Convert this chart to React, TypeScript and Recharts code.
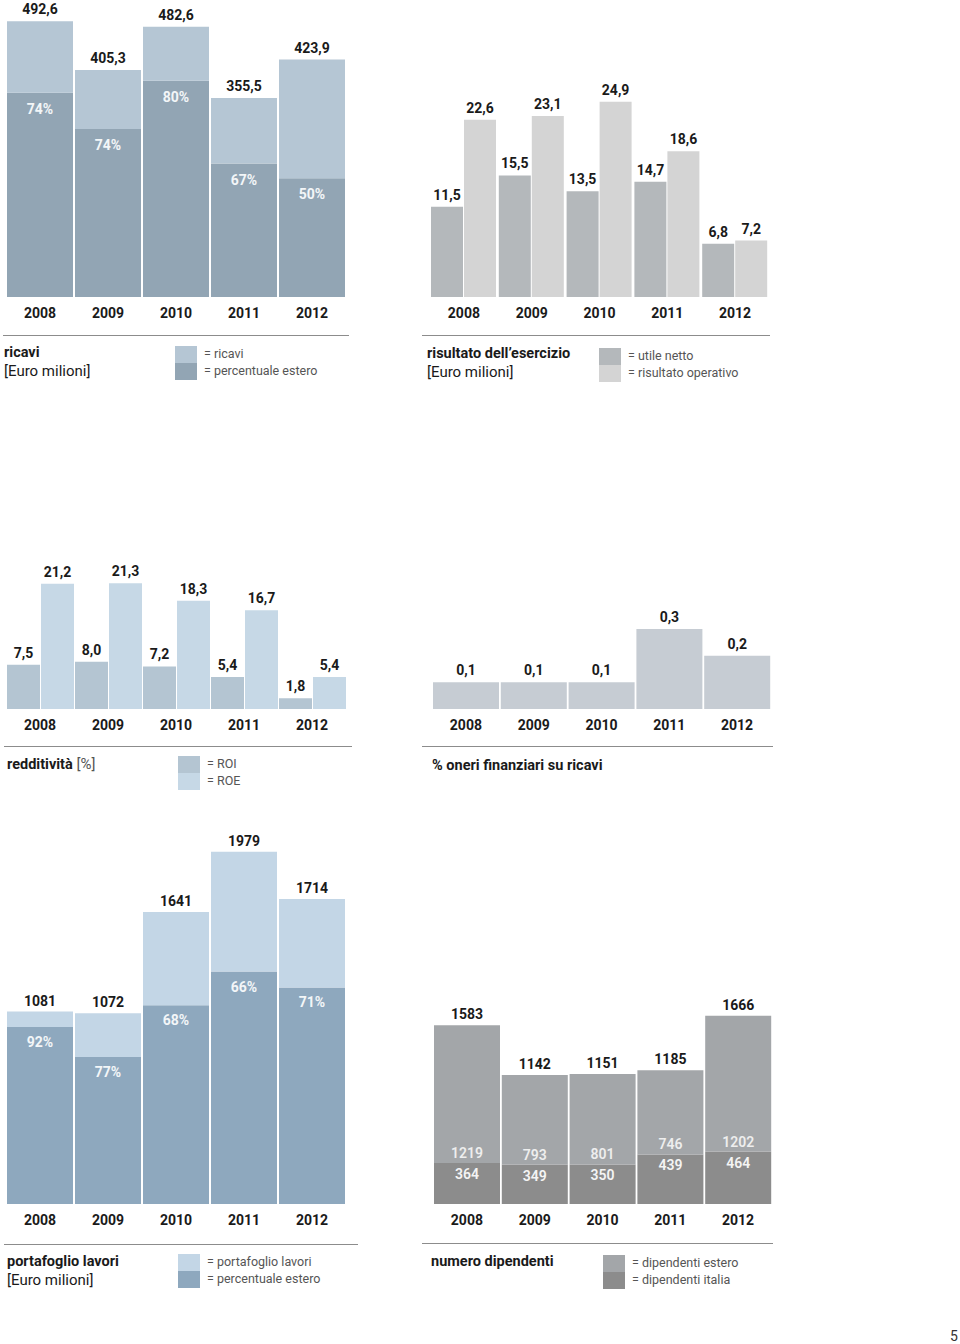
import type { ReactNode } from 'react'
import { Bar, BarChart, LabelList, XAxis, YAxis } from 'recharts'

const FONT = 'Roboto, "DejaVu Sans", sans-serif'

const years = ['2008', '2009', '2010', '2011', '2012']

// ricavi [Euro milioni] and share abroad
const ricavi = [492.6, 405.3, 482.6, 355.5, 423.9]
const ricaviEsteroPct = [74, 74, 80, 67, 50]

// risultato dell'esercizio [Euro milioni]
const utileNetto = [11.5, 15.5, 13.5, 14.7, 6.8]
const risultatoOperativo = [22.6, 23.1, 24.9, 18.6, 7.2]

// redditività [%]
const roi = [7.5, 8.0, 7.2, 5.4, 1.8]
const roe = [21.2, 21.3, 18.3, 16.7, 5.4]

// % oneri finanziari su ricavi
const oneriFinanziari = [0.1, 0.1, 0.1, 0.3, 0.2]

// portafoglio lavori [Euro milioni] and share abroad
const portafoglio = [1081, 1072, 1641, 1979, 1714]
const portafoglioEsteroPct = [92, 77, 68, 66, 71]

// numero dipendenti
const dipEstero = [1219, 793, 801, 746, 1202]
const dipItalia = [364, 349, 350, 439, 464]

const ricaviData = years.map((year, i) => {
  const estero = (ricavi[i] * ricaviEsteroPct[i]) / 100
  return { year, estero, resto: ricavi[i] - estero, ricavi: ricavi[i], pct: ricaviEsteroPct[i] }
})
const risultatoData = years.map((year, i) => ({ year, utile: utileNetto[i], operativo: risultatoOperativo[i] }))
const redditivitaData = years.map((year, i) => ({ year, roi: roi[i], roe: roe[i] }))
const oneriData = years.map((year, i) => ({ year, oneri: oneriFinanziari[i] }))
const portafoglioData = years.map((year, i) => {
  const estero = (portafoglio[i] * portafoglioEsteroPct[i]) / 100
  return { year, estero, resto: portafoglio[i] - estero, totale: portafoglio[i], pct: portafoglioEsteroPct[i] }
})
const dipendentiData = years.map((year, i) => ({
  year,
  italia: dipItalia[i],
  estero: dipEstero[i],
  totale: dipItalia[i] + dipEstero[i],
}))

const fmt1 = (v: number) => v.toFixed(1).replace('.', ',')
const fmt0 = (v: number) => String(Math.round(v))
const fmtPct = (v: number) => `${v}%`

// label placed relative to a bar segment
function makeLabel(format: (v: number) => string, place: 'above' | 'inTop' | 'aboveBottom' | 'belowTop', color: string, dy: number, weight = 700) {
  return (p: any) => {
    const x = Number(p.x)
    const y = Number(p.y)
    const w = Number(p.width)
    const h = Number(p.height)
    let ty = y - dy
    if (place === 'inTop') ty = y + dy
    if (place === 'aboveBottom') ty = y + h - dy
    if (place === 'belowTop') ty = y + dy
    return (
      <text x={x + w / 2} y={ty} textAnchor="middle" fontSize={14} fontWeight={weight} fill={color} fontFamily={FONT}>
        {format(Number(p.value))}
      </text>
    )
  }
}

const yearTick = (p: any) => (
  <text x={p.x} y={Number(p.y) + 21} textAnchor="middle" fontSize={14} fontWeight={700} fill="#1a1a1a" fontFamily={FONT}>
    {p.payload.value}
  </text>
)

type FrameProps = {
  x: number
  w: number
  plotTop: number
  base: number
  domain: [number, number]
  data: any[]
  children: ReactNode
}

function Frame({ x, w, plotTop, base, domain, data, children }: FrameProps) {
  const mt = 30
  const h = mt + (base - plotTop) + 30
  return (
    <div style={{ position: 'absolute', left: x, top: plotTop - mt }}>
      <BarChart width={w} height={h} data={data} margin={{ top: mt, right: 0, left: 0, bottom: 0 }} barCategoryGap={1} barGap={1}>
        <XAxis dataKey="year" axisLine={false} tickLine={false} tickSize={0} tickMargin={0} height={30} interval={0} tick={yearTick} />
        <YAxis hide domain={domain} />
        {children}
      </BarChart>
    </div>
  )
}

function Rule({ x, y, w }: { x: number; y: number; w: number }) {
  return <div style={{ position: 'absolute', left: x, top: y, width: w, height: 0, borderTop: '1px solid #8c8c8c' }} />
}

function Txt({ x, y, children, bold = false, size = 14.5, color = '#1a1a1a' }: { x: number; y: number; children: ReactNode; bold?: boolean; size?: number; color?: string }) {
  return (
    <div style={{ position: 'absolute', left: x, top: y - 9, lineHeight: '18px', fontSize: size, fontWeight: bold ? 700 : 400, color, whiteSpace: 'nowrap', fontFamily: FONT }}>
      {children}
    </div>
  )
}

function Legend({ x, y, c1, c2, t1, t2 }: { x: number; y: number; c1: string; c2: string; t1: string; t2: string }) {
  return (
    <>
      <div style={{ position: 'absolute', left: x, top: y, width: 22, height: 17, background: c1 }} />
      <div style={{ position: 'absolute', left: x, top: y + 17, width: 22, height: 17, background: c2 }} />
      <Txt x={x + 29} y={y + 8} size={12.5} color="#555">{t1}</Txt>
      <Txt x={x + 29} y={y + 25} size={12.5} color="#555">{t2}</Txt>
    </>
  )
}

export default function App() {
  return (
    <div style={{ position: 'absolute', left: 0, top: 0, width: 960, height: 1344, background: '#fff', overflow: 'hidden', fontFamily: FONT }}>
      {/* ricavi */}
      <Frame x={6} w={340} plotTop={17} base={297} domain={[0, 500]} data={ricaviData}>
        <Bar dataKey="estero" stackId="a" fill="#92a5b4" isAnimationActive={false}>
          <LabelList dataKey="pct" content={makeLabel(fmtPct, 'inTop', '#f3f6f8', 21)} />
        </Bar>
        <Bar dataKey="resto" stackId="a" fill="#b5c6d4" isAnimationActive={false}>
          <LabelList dataKey="ricavi" content={makeLabel(fmt1, 'above', '#1a1a1a', 7)} />
        </Bar>
      </Frame>
      <Rule x={3} y={335} w={346} />
      <Txt x={4} y={353} bold>ricavi</Txt>
      <Txt x={4} y={371} size={15}>[Euro milioni]</Txt>
      <Legend x={175} y={346} c1="#b5c6d4" c2="#92a5b4" t1="= ricavi" t2="= percentuale estero" />

      {/* risultato dell'esercizio */}
      <Frame x={430} w={339} plotTop={101} base={297} domain={[0, 25]} data={risultatoData}>
        <Bar dataKey="utile" fill="#b4b8bb" isAnimationActive={false}>
          <LabelList dataKey="utile" content={makeLabel(fmt1, 'above', '#1a1a1a', 7)} />
        </Bar>
        <Bar dataKey="operativo" fill="#d4d4d4" isAnimationActive={false}>
          <LabelList dataKey="operativo" content={makeLabel(fmt1, 'above', '#1a1a1a', 7)} />
        </Bar>
      </Frame>
      <Rule x={422} y={335} w={348} />
      <Txt x={427} y={354} bold>risultato dell’esercizio</Txt>
      <Txt x={427} y={372} size={15}>[Euro milioni]</Txt>
      <Legend x={599} y={348} c1="#b4b8bb" c2="#d4d4d4" t1="= utile netto" t2="= risultato operativo" />

      {/* redditività */}
      <Frame x={6} w={340} plotTop={579} base={709} domain={[0, 22]} data={redditivitaData}>
        <Bar dataKey="roi" fill="#b4c5d2" isAnimationActive={false}>
          <LabelList dataKey="roi" content={makeLabel(fmt1, 'above', '#1a1a1a', 7)} />
        </Bar>
        <Bar dataKey="roe" fill="#c6d8e6" isAnimationActive={false}>
          <LabelList dataKey="roe" content={makeLabel(fmt1, 'above', '#1a1a1a', 7)} />
        </Bar>
      </Frame>
      <Rule x={4} y={746} w={348} />
      <Txt x={7} y={764} size={15}>
        <b style={{ fontSize: 14.5 }}>redditività</b> <span style={{ color: '#555' }}>[%]</span>
      </Txt>
      <Legend x={178} y={756} c1="#b4c5d2" c2="#c6d8e6" t1="= ROI" t2="= ROE" />

      {/* oneri finanziari */}
      <Frame x={432} w={339} plotTop={629} base={709} domain={[0, 0.3]} data={oneriData}>
        <Bar dataKey="oneri" fill="#c6ccd3" isAnimationActive={false}>
          <LabelList dataKey="oneri" content={makeLabel(fmt1, 'above', '#1a1a1a', 7)} />
        </Bar>
      </Frame>
      <Rule x={422} y={746} w={351} />
      <Txt x={432} y={766} bold>% oneri finanziari su ricavi</Txt>

      {/* portafoglio lavori */}
      <Frame x={6} w={340} plotTop={848} base={1204} domain={[0, 2000]} data={portafoglioData}>
        <Bar dataKey="estero" stackId="a" fill="#8ea8be" isAnimationActive={false}>
          <LabelList dataKey="pct" content={makeLabel(fmtPct, 'inTop', '#f3f6f8', 20)} />
        </Bar>
        <Bar dataKey="resto" stackId="a" fill="#c3d6e6" isAnimationActive={false}>
          <LabelList dataKey="totale" content={makeLabel(fmt0, 'above', '#1a1a1a', 6)} />
        </Bar>
      </Frame>
      <Rule x={4} y={1244} w={354} />
      <Txt x={7} y={1262} bold>portafoglio lavori</Txt>
      <Txt x={7} y={1280} size={15}>[Euro milioni]</Txt>
      <Legend x={178} y={1254} c1="#c3d6e6" c2="#8ea8be" t1="= portafoglio lavori" t2="= percentuale estero" />

      {/* numero dipendenti */}
      <Frame x={433} w={339} plotTop={1012} base={1204} domain={[0, 1700]} data={dipendentiData}>
        <Bar dataKey="italia" stackId="a" fill="#8c8c8c" isAnimationActive={false}>
          <LabelList dataKey="italia" content={makeLabel(fmt0, 'belowTop', '#f4f4f4', 16, 600)} />
        </Bar>
        <Bar dataKey="estero" stackId="a" fill="#a3a6a9" isAnimationActive={false}>
          <LabelList dataKey="estero" content={makeLabel(fmt0, 'aboveBottom', '#eeeeee', 5, 600)} />
          <LabelList dataKey="totale" content={makeLabel(fmt0, 'above', '#1a1a1a', 6)} />
        </Bar>
      </Frame>
      <Rule x={422} y={1243} w={351} />
      <Txt x={431} y={1262} bold>numero dipendenti</Txt>
      <Legend x={603} y={1255} c1="#a3a6a9" c2="#8c8c8c" t1="= dipendenti estero" t2="= dipendenti italia" />

      <Txt x={950} y={1336} size={14} color="#333">5</Txt>
    </div>
  )
}
